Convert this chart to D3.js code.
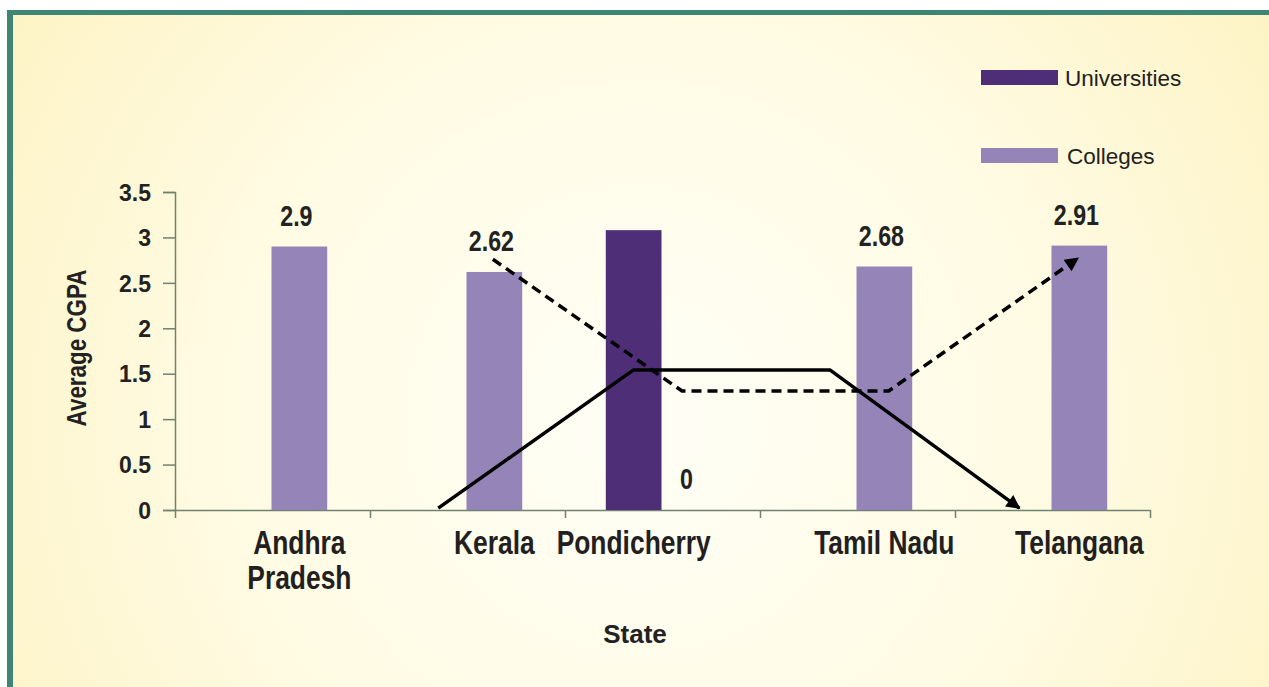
<!DOCTYPE html>
<html>
<head>
<meta charset="utf-8">
<script src="https://cdn.jsdelivr.net/npm/d3@7"></script>
<style>
  html, body { margin: 0; padding: 0; background: #fff; }
  svg { display: block; }
  .narrow { font-family: "Liberation Sans", Arial, sans-serif; font-weight: bold; }
  .wide { font-family: "Liberation Sans", Arial, sans-serif; }
</style>
</head>
<body>
<svg id="chart" width="1269" height="687"></svg>
<script>
// Data
const states = ["Andhra Pradesh", "Kerala", "Pondicherry", "Tamil Nadu", "Telangana"];
const stateLines = [["Andhra", "Pradesh"], ["Kerala"], ["Pondicherry"], ["Tamil Nadu"], ["Telangana"]];
const series = ["Universities", "Colleges"];
const universities = [0, 0, 3.08, 0, 0];
const colleges = [2.9, 2.62, 0, 2.68, 2.91];
const yTicks = [0, 0.5, 1, 1.5, 2, 2.5, 3, 3.5];
const seriesColors = ["#4f2e78", "#9484b8"];

// annotation arrows: [category position, value]
const solidArrow = [[1.35, 0.02], [2.35, 1.54], [3.36, 1.54], [4.33, 0.02]];
const dashedArrow = [[1.63, 2.76], [2.6, 1.31], [3.66, 1.31], [4.63, 2.77]];

// horizontal squeeze to mimic a condensed face
const squeeze = 0.8;

const svg = d3.select("#chart");

// background + frame
const defs = svg.append("defs");
const grad = defs.append("radialGradient")
    .attr("id", "bg")
    .attr("gradientUnits", "userSpaceOnUse")
    .attr("cx", 640).attr("cy", 420).attr("r", 760);
grad.append("stop").attr("offset", "0").attr("stop-color", "#fffef6");
grad.append("stop").attr("offset", "0.55").attr("stop-color", "#fffbe3");
grad.append("stop").attr("offset", "1").attr("stop-color", "#fdf3c4");

svg.append("rect").attr("x", 7).attr("y", 10).attr("width", 1262).attr("height", 677).attr("fill", "#3e8574");
svg.append("rect").attr("x", 13).attr("y", 15).attr("width", 1256).attr("height", 672).attr("fill", "url(#bg)");

const plotLeft = 175, plotRight = 1150, plotTop = 192, plotBottom = 510;

const x0 = d3.scaleBand().domain(states).range([plotLeft, plotRight]).padding(0);
const x1 = d3.scaleBand().domain(series).range([-1, x0.bandwidth() - 1]).paddingInner(0).paddingOuter(0.75);
const xPos = d3.scaleLinear().domain([0, states.length]).range([plotLeft, plotRight]);
const y = d3.scaleLinear().domain([0, 3.5]).range([plotBottom, plotTop]);

const axisColor = "#6f8272";

// y axis
const yAxis = svg.append("g")
    .attr("transform", `translate(${plotLeft},0)`)
    .call(d3.axisLeft(y).tickValues(yTicks).tickSize(12).tickPadding(12).tickFormat(d3.format("")));
yAxis.select(".domain").attr("stroke", axisColor).attr("stroke-width", 1.5);
yAxis.selectAll(".tick line").attr("stroke", axisColor).attr("stroke-width", 1.5);
yAxis.selectAll(".tick text")
    .attr("class", "wide")
    .attr("font-size", 23)
    .attr("font-weight", "bold")
    .attr("fill", "#222")
    .attr("dy", "0.36em");

// x axis (boundary ticks)
const xAxis = svg.append("g")
    .attr("transform", `translate(0,${plotBottom})`)
    .call(d3.axisBottom(xPos).ticks(states.length).tickSize(8).tickSizeOuter(0).tickFormat(""));
xAxis.select(".domain").attr("stroke", axisColor).attr("stroke-width", 1.5);
xAxis.selectAll(".tick line").attr("stroke", axisColor).attr("stroke-width", 1.5);

// bars
const rows = states.map((s, i) => ({ state: s, values: [universities[i], colleges[i]] }));
const groups = svg.append("g").selectAll("g")
    .data(rows)
    .join("g")
    .attr("transform", d => `translate(${x0(d.state)},0)`);

groups.selectAll("rect")
    .data(d => d.values.map((v, j) => ({ key: series[j], value: v, color: seriesColors[j] })))
    .join("rect")
    .attr("x", d => x1(d.key))
    .attr("width", x1.bandwidth())
    .attr("y", d => y(d.value))
    .attr("height", d => y(0) - y(d.value))
    .attr("fill", d => d.color);

// value labels (colleges)
groups.append("text")
    .attr("class", "narrow")
    .attr("transform", (d, i) => `translate(${x1("Colleges") + x1.bandwidth() / 2 - 3},${y(colleges[i]) - 21}) scale(${squeeze},1)`)
    .attr("text-anchor", "middle")
    .attr("font-size", 29)
    .attr("fill", "#222")
    .text((d, i) => colleges[i]);

// category labels under the visible bar
states.forEach((s, i) => {
    const key = colleges[i] > 0 ? "Colleges" : "Universities";
    const cx = x0(s) + x1(key) + x1.bandwidth() / 2;
    const t = svg.append("text")
        .attr("class", "narrow")
        .attr("transform", `translate(${cx},554) scale(${squeeze},1)`)
        .attr("text-anchor", "middle")
        .attr("font-size", 33)
        .attr("fill", "#231f20");
    stateLines[i].forEach((line, k) => {
        t.append("tspan").attr("x", 0).attr("dy", k === 0 ? 0 : 35).text(line);
    });
});

// axis titles
svg.append("text")
    .attr("class", "narrow")
    .attr("transform", `translate(86,348) rotate(-90) scale(${squeeze},1)`)
    .attr("text-anchor", "middle")
    .attr("font-size", 28)
    .attr("fill", "#222")
    .text("Average CGPA");

svg.append("text")
    .attr("class", "wide")
    .attr("x", 635)
    .attr("y", 643)
    .attr("text-anchor", "middle")
    .attr("font-size", 26)
    .attr("font-weight", "bold")
    .attr("fill", "#222")
    .text("State");

// legend
const legend = svg.append("g");
const legendY = [70, 148];
series.forEach((s, j) => {
    legend.append("rect")
        .attr("x", 981).attr("y", legendY[j])
        .attr("width", 77).attr("height", 15)
        .attr("fill", seriesColors[j]);
    legend.append("text")
        .attr("class", "wide")
        .attr("x", j === 0 ? 1065 : 1067)
        .attr("y", legendY[j] + 16)
        .attr("font-size", 22.5)
        .attr("fill", "#222")
        .text(s);
});

// arrows
defs.append("marker")
    .attr("id", "head")
    .attr("viewBox", "0 0 10 10")
    .attr("refX", 9).attr("refY", 5)
    .attr("markerUnits", "userSpaceOnUse")
    .attr("markerWidth", 17).attr("markerHeight", 14)
    .attr("orient", "auto")
    .append("path")
    .attr("d", "M0,0 L10,5 L0,10 Z")
    .attr("fill", "#000");

const line = d3.line().x(d => xPos(d[0])).y(d => y(d[1]));

svg.append("path")
    .datum(solidArrow)
    .attr("d", line)
    .attr("fill", "none")
    .attr("stroke", "#000")
    .attr("stroke-width", 3.5)
    .attr("stroke-linejoin", "round")
    .attr("marker-end", "url(#head)");

svg.append("path")
    .datum(dashedArrow)
    .attr("d", line)
    .attr("fill", "none")
    .attr("stroke", "#000")
    .attr("stroke-width", 3.5)
    .attr("stroke-dasharray", "10,6")
    .attr("marker-end", "url(#head)");
</script>
</body>
</html>
